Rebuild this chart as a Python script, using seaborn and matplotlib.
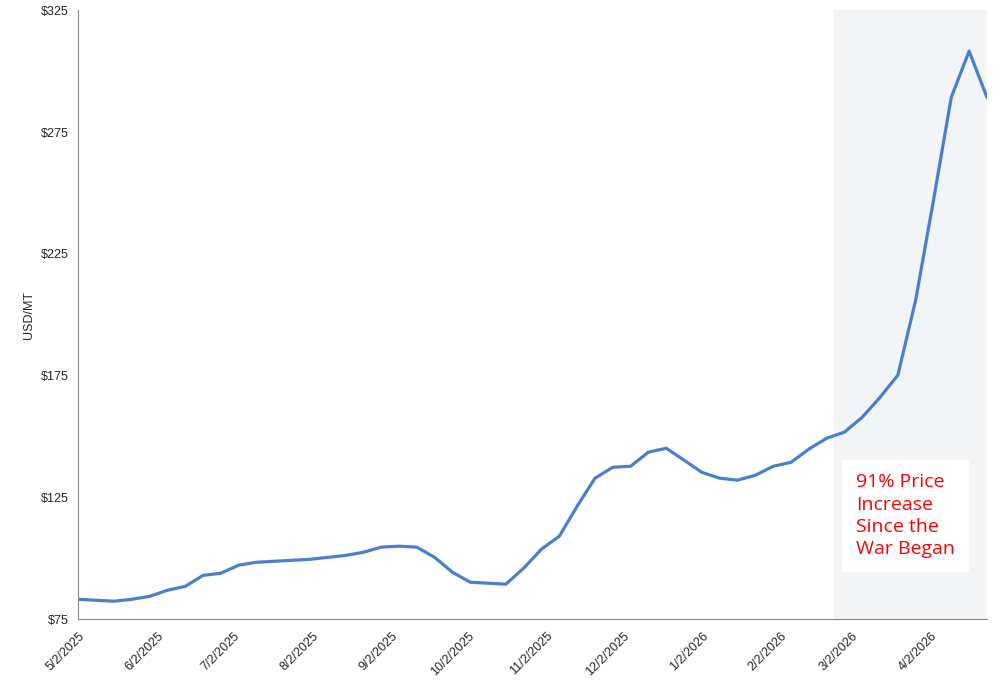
import matplotlib
matplotlib.use("Agg")
import matplotlib.pyplot as plt
import seaborn as sns
import pandas as pd

first_date = "2025-05-02"
weekly_start = "2025-05-16"
first_value = 83.2
values = [82.4,83.2,84.4,86.9,88.5,93,93.9,97.2,98.4,
          98.8,99.2,99.6,100.4,101.2,102.5,104.6,105,104.6,100.4,
          94.3,90.2,89.8,89.4,96,103.8,109.1,121.4,132.9,137.4,
          137.8,143.6,145.2,140.3,135.3,132.9,132.1,134.1,137.8,139.4,
          144.8,149.3,151.8,157.9,166.1,175.2,206,247,289.3,308.2,289.3]
dates = [pd.Timestamp(first_date)] + list(pd.date_range(weekly_start, periods=len(values), freq="7D"))
df = pd.DataFrame({"date": dates, "price": [first_value] + values})
war_start = pd.Timestamp("2026-02-23")
tick_dates = pd.date_range("2025-05-02", periods=12, freq=pd.DateOffset(months=1))
tick_labels = [f"{d.month}/{d.day}/{d.year}" for d in tick_dates]

sns.set_style("white")
plt.rcParams['font.family'] = ['Liberation Sans', 'DejaVu Sans']
fig, ax = plt.subplots(figsize=(10.04, 6.82), dpi=100)
fig.subplots_adjust(left=0.078, right=0.983, top=0.985, bottom=0.092)
ax.axvspan(war_start, df["date"].max(), color="#f3f4f6", zorder=0)
sns.lineplot(data=df, x="date", y="price", ax=ax, color="#4a7fcf", linewidth=2.3)
ax.set_xlim(df["date"].min(), df["date"].max())
ax.set_ylim(75, 325)
ax.set_yticks(range(75, 326, 50))
ax.set_yticklabels([f"${v}" for v in range(75, 326, 50)], fontsize=9)
ax.set_xticks(tick_dates)
ax.set_xticklabels(tick_labels, rotation=45, ha="right", rotation_mode="anchor", fontsize=9)
ax.tick_params(axis="x", pad=4)
ax.set_xlabel("")
ax.set_ylabel("USD/MT", fontsize=9)
for s in ["top", "right"]:
    ax.spines[s].set_visible(False)
for s in ["left", "bottom"]:
    ax.spines[s].set_color("#888888")
ax.text(0.856, 0.17, "91% Price\nIncrease\nSince the\nWar Began", transform=ax.transAxes,
        color="red", fontsize=14, va="center", ha="left", linespacing=1.3,
        family=["Open Sans", "DejaVu Sans"],
        bbox=dict(facecolor="white", edgecolor="none", boxstyle="square,pad=0.7"))
fig.savefig("out.png", dpi=100)
